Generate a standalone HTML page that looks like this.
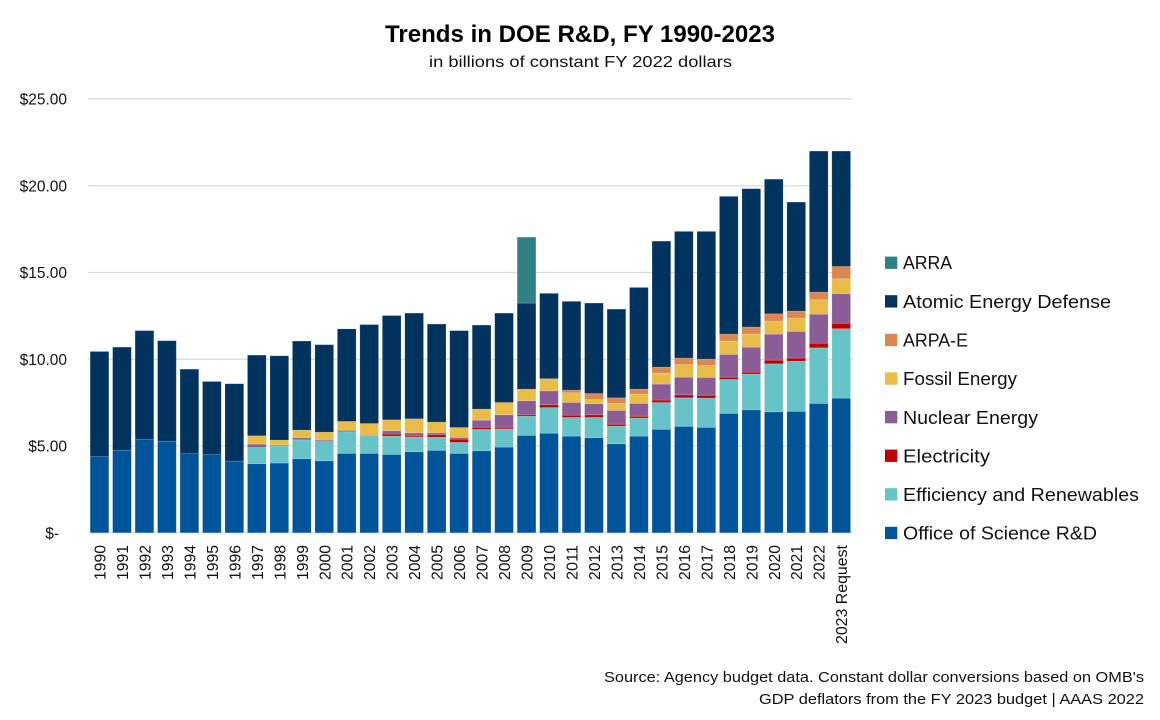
<!DOCTYPE html>
<html lang="en">
<head>
<meta charset="utf-8">
<title>Trends in DOE R&amp;D, FY 1990-2023</title>
<style>
html,body{margin:0;padding:0;background:#fff;width:1160px;height:720px;overflow:hidden}
svg{display:block;font-family:"Liberation Sans",sans-serif;fill:#111}
</style>
</head>
<body>
<svg id="chart" width="1160" height="720" viewBox="0 0 1160 720" xmlns="http://www.w3.org/2000/svg">
  <rect x="0" y="0" width="1160" height="720" fill="#ffffff"/>
  <text x="385" y="42" font-size="24.5" font-weight="700" fill="#000" textLength="390" lengthAdjust="spacingAndGlyphs">Trends in DOE R&amp;D, FY 1990-2023</text>
  <text x="429" y="67" font-size="16" textLength="303" lengthAdjust="spacingAndGlyphs">in billions of constant FY 2022 dollars</text>
  <g id="grid"></g>
  <g id="yticks"></g>
  <g id="bars"></g>
  <g id="xticks"></g>

  <g font-size="18.5">
    <g>
      <rect x="885" y="256.6" width="12.3" height="12.3" fill="#2f8186"/>
      <text x="903" y="269" textLength="49" lengthAdjust="spacingAndGlyphs">ARRA</text>
    </g>
    <g>
      <rect x="885" y="295.2" width="12.3" height="12.3" fill="#00335e"/>
      <text x="903" y="308" textLength="208" lengthAdjust="spacingAndGlyphs">Atomic Energy Defense</text>
    </g>
    <g>
      <rect x="885" y="333.8" width="12.3" height="12.3" fill="#dc8650"/>
      <text x="903" y="346.5" textLength="65" lengthAdjust="spacingAndGlyphs">ARPA-E</text>
    </g>
    <g>
      <rect x="885" y="372.4" width="12.3" height="12.3" fill="#e8bc46"/>
      <text x="903" y="385" textLength="114" lengthAdjust="spacingAndGlyphs">Fossil Energy</text>
    </g>
    <g>
      <rect x="885" y="411" width="12.3" height="12.3" fill="#8b5d96"/>
      <text x="903" y="423.8" textLength="135" lengthAdjust="spacingAndGlyphs">Nuclear Energy</text>
    </g>
    <g>
      <rect x="885" y="449.6" width="12.3" height="12.3" fill="#c00000"/>
      <text x="903" y="462.4" textLength="87" lengthAdjust="spacingAndGlyphs">Electricity</text>
    </g>
    <g>
      <rect x="885" y="488.2" width="12.3" height="12.3" fill="#66c3c8"/>
      <text x="903" y="501" textLength="236" lengthAdjust="spacingAndGlyphs">Efficiency and Renewables</text>
    </g>
    <g>
      <rect x="885" y="526.8" width="12.3" height="12.3" fill="#00549a"/>
      <text x="903" y="539.6" textLength="194" lengthAdjust="spacingAndGlyphs">Office of Science R&amp;D</text>
    </g>
  </g>

  <text x="604" y="682" font-size="15" textLength="540" lengthAdjust="spacingAndGlyphs">Source: Agency budget data. Constant dollar conversions based on OMB's</text>
  <text x="759" y="704" font-size="15" textLength="385" lengthAdjust="spacingAndGlyphs">GDP deflators from the FY 2023 budget | AAAS 2022</text>
</svg>
<script>
const categories = ["1990","1991","1992","1993","1994","1995","1996","1997","1998","1999","2000","2001","2002","2003","2004","2005","2006","2007","2008","2009","2010","2011","2012","2013","2014","2015","2016","2017","2018","2019","2020","2021","2022","2023 Request"];
const officeOfScience = [4.40,4.76,5.38,5.28,4.57,4.51,4.13,3.98,4.02,4.27,4.15,4.57,4.57,4.51,4.67,4.75,4.57,4.73,4.94,5.61,5.74,5.57,5.48,5.13,5.57,5.96,6.13,6.07,6.88,7.09,6.97,6.99,7.45,7.76];
const efficiencyRenewables = [0,0,0,0,0,0,0,0.94,0.99,1.09,1.11,1.25,1.02,1.06,0.86,0.76,0.64,1.23,1.05,1.11,1.48,1.08,1.17,1.02,1.04,1.55,1.65,1.69,1.96,2.06,2.77,2.90,3.21,4.00];
const electricity = [0,0,0,0,0,0,0,0,0,0,0,0,0,0.12,0.08,0.14,0.19,0.11,0.10,0.08,0.16,0.13,0.15,0.11,0.11,0.14,0.17,0.17,0.13,0.11,0.21,0.18,0.27,0.32];
const nuclearEnergy = [0,0,0,0,0,0,0,0.19,0.05,0.12,0.08,0.08,0.04,0.19,0.15,0.11,0.09,0.42,0.71,0.81,0.80,0.73,0.64,0.79,0.73,0.92,1.02,1.02,1.31,1.44,1.50,1.53,1.67,1.70];
const fossilEnergy = [0,0,0,0,0,0,0,0.48,0.28,0.44,0.46,0.52,0.67,0.63,0.81,0.62,0.58,0.64,0.71,0.67,0.70,0.56,0.24,0.42,0.54,0.63,0.73,0.69,0.77,0.75,0.75,0.77,0.83,0.86];
const arpaE = [0,0,0,0,0,0,0,0,0,0,0,0,0,0,0,0,0,0,0,0,0,0.15,0.35,0.31,0.29,0.35,0.37,0.37,0.40,0.41,0.42,0.41,0.44,0.71];
const atomicEnergyDefense = [6.05,5.94,6.27,5.79,4.86,4.21,4.46,4.65,4.86,5.13,5.04,5.33,5.70,6.01,6.09,5.65,5.58,4.84,5.15,4.96,4.92,5.12,5.21,5.11,5.86,7.26,7.30,7.36,7.94,7.97,7.76,6.28,8.13,6.65];
const arra = [0,0,0,0,0,0,0,0,0,0,0,0,0,0,0,0,0,0,0,3.80,0,0,0,0,0,0,0,0,0,0,0,0,0,0];
const tickValues = [0,5,10,15,20,25];
const tickLabels = ["$-","$5.00","$10.00","$15.00","$20.00","$25.00"];

const NS = "http://www.w3.org/2000/svg";
const plotLeft = 88.3, plotRight = 852.5, plotBottom = 532.8, plotTop = 99;
const yMax = 25;
const firstCenter = 99.5, step = (841.2 - 99.5) / (categories.length - 1), barWidth = 18.7;
function yScale(v) { return plotBottom - (v / yMax) * (plotBottom - plotTop); }
function xScale(i) { return firstCenter + i * step; }

const stack = [
  { key: "office-of-science", values: officeOfScience, color: "#00549a" },
  { key: "efficiency-and-renewables", values: efficiencyRenewables, color: "#66c3c8" },
  { key: "electricity", values: electricity, color: "#c00000" },
  { key: "nuclear-energy", values: nuclearEnergy, color: "#8b5d96" },
  { key: "fossil-energy", values: fossilEnergy, color: "#e8bc46" },
  { key: "arpa-e", values: arpaE, color: "#dc8650" },
  { key: "atomic-energy-defense", values: atomicEnergyDefense, color: "#00335e" },
  { key: "arra", values: arra, color: "#2f8186" }
];

const gridG = document.getElementById("grid");
const yG = document.getElementById("yticks");
tickValues.forEach(function (v, i) {
  const line = document.createElementNS(NS, "line");
  
  
  line.setAttribute("x1", plotLeft);
  line.setAttribute("x2", plotRight);
  line.setAttribute("y1", yScale(v));
  line.setAttribute("y2", yScale(v));
  line.setAttribute("stroke", "#d9d9d9");
  line.setAttribute("stroke-width", "1.2");
  gridG.appendChild(line);

  const t = document.createElementNS(NS, "text");
  
  
  t.setAttribute("x", v === 0 ? 59 : 67);
  t.setAttribute("y", yScale(v) + 5.5);
  t.setAttribute("text-anchor", "end");
  t.setAttribute("font-size", "15.5");
  t.textContent = tickLabels[i];
  yG.appendChild(t);
});

const barsG = document.getElementById("bars");
categories.forEach(function (cat, i) {
  let cum = 0;
  stack.forEach(function (s) {
    const v = s.values[i];
    if (v <= 0) return;
    const top = yScale(cum + v);
    const bottom = yScale(cum);
    const r = document.createElementNS(NS, "rect");
    
    
    r.setAttribute("data-series", s.key);
    r.setAttribute("data-category", cat);
    r.setAttribute("x", xScale(i) - barWidth / 2);
    r.setAttribute("y", top);
    r.setAttribute("width", barWidth);
    r.setAttribute("height", bottom - top);
    r.setAttribute("fill", s.color);
    r.setAttribute("stroke", "#ffffff");
    r.setAttribute("stroke-opacity", "0.22");
    r.setAttribute("stroke-width", "0.7");
    barsG.appendChild(r);
    cum += v;
  });
});

const xG = document.getElementById("xticks");
categories.forEach(function (cat, i) {
  const bx = xScale(i) + 6;
  const by = 545;
  const t = document.createElementNS(NS, "text");
  
  
  t.setAttribute("x", bx);
  t.setAttribute("y", by);
  t.setAttribute("text-anchor", "end");
  t.setAttribute("font-size", "15.5");
  t.setAttribute("textLength", cat.length === 4 ? 35 : 99);
  t.setAttribute("lengthAdjust", "spacingAndGlyphs");
  t.setAttribute("transform", "rotate(-90 " + bx + " " + by + ")");
  t.textContent = cat;
  xG.appendChild(t);
});
</script>
</body>
</html>
